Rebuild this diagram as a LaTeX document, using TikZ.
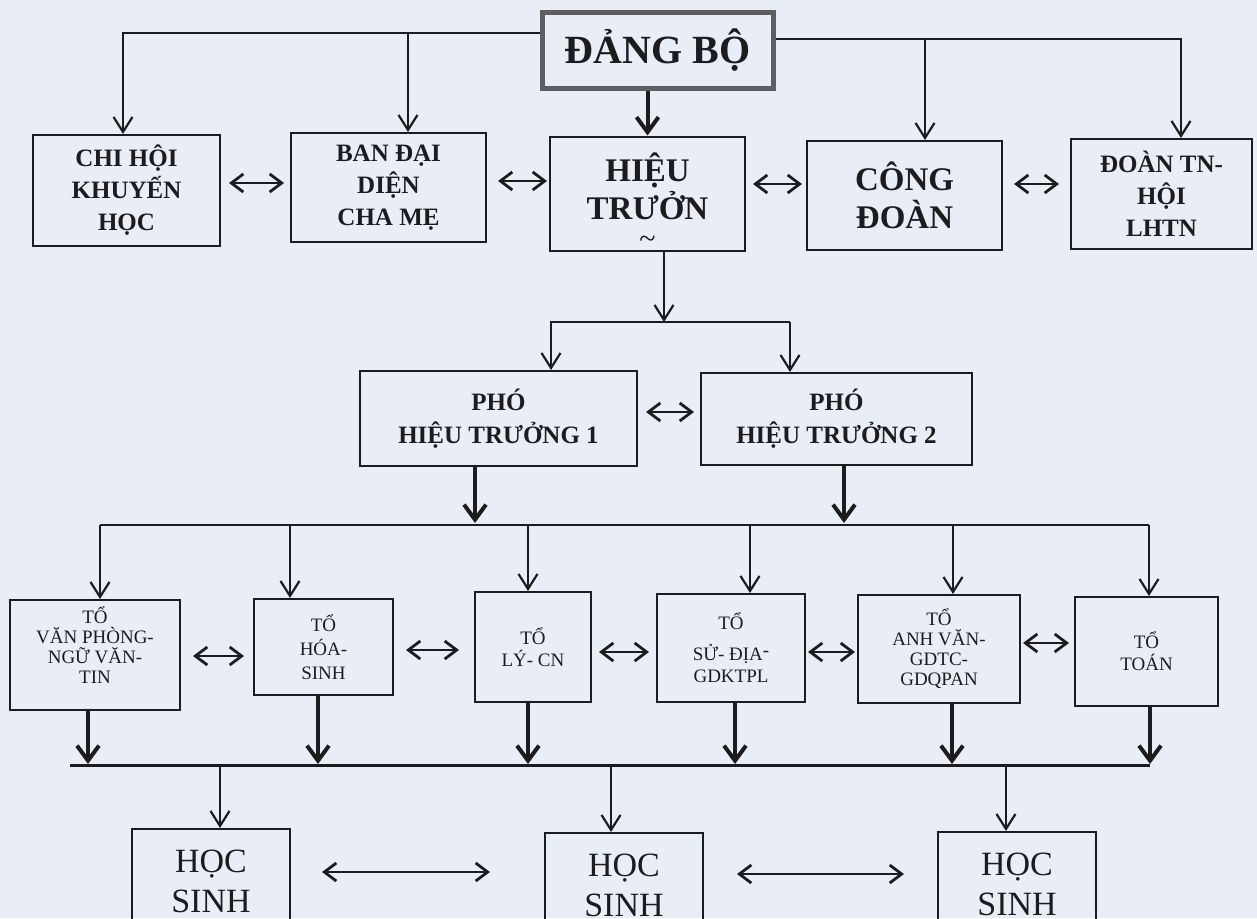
\documentclass[tikz,border=0pt]{standalone}
\usepackage{fontspec}
\setmainfont{Liberation Serif}
\usetikzlibrary{arrows.meta}
\definecolor{bg}{RGB}{233,238,246}
\definecolor{ink}{RGB}{28,28,30}
\definecolor{frame}{RGB}{95,95,98}
\newcommand\fsz[2]{\fontsize{#1}{#2}\selectfont}
\tikzset{
  box/.style={draw=ink, line width=2pt, inner sep=2pt, align=center, text=ink},
  rowone/.style={box, font=\bfseries\fsz{25}{32}},
  rowbig/.style={box, font=\bfseries\fsz{33}{38}},
  phobox/.style={box, font=\bfseries\fsz{25}{33}},
  tobox/.style={box, font=\fsz{19}{20}},
  hsbox/.style={box, font=\fsz{34}{40}},
  conn/.style={draw=ink, line width=2.2pt},
  arr/.style={draw=ink, line width=2.2pt, -{Straight Barb[length=15pt,width=19pt]}},
  tharr/.style={draw=ink, line width=4pt, -{Straight Barb[length=15pt,width=22pt]}},
  dbl/.style={draw=ink, line width=2.8pt, {Straight Barb[length=12pt,width=18pt]}-{Straight Barb[length=12pt,width=18pt]}}
}
\begin{document}
\begin{tikzpicture}[x=1pt,y=-1pt]
\useasboundingbox (0,0) rectangle (1257,918);
\fill[bg] (0,0) rectangle (1257,918);
\clip (0,0) rectangle (1257,918);

% top
\node[box, draw=frame, line width=5pt, minimum width=231, minimum height=76, font=\bfseries\fsz{40}{44}] (dang) at (657.5,50) {ĐẢNG BỘ};

% row 1
\node[rowone, minimum width=187, minimum height=111] (chihoi) at (126.5,190.5) {CHI HỘI\\KHUYẾN\\HỌC};
\node[rowone, minimum width=195, minimum height=109] (ban) at (388.5,187.5) {BAN ĐẠI\\DIỆN\\CHA MẸ};
\node[rowbig, minimum width=195, minimum height=109] (hieu) at (647.5,193.5) {\rule{0pt}{43pt}HIỆU\\TRƯỞN\\[-9pt]{\mdseries\fsz{30}{30}\textasciitilde}};
\node[rowbig, minimum width=195, minimum height=109] (cong) at (904.5,195.5) {CÔNG\\ĐOÀN};
\node[rowone, minimum width=181, minimum height=110] (doan) at (1161.5,194) {ĐOÀN TN-\\HỘI\\LHTN};

% row 2
\node[phobox, minimum width=277, minimum height=95] (pho1) at (498.5,418.5) {PHÓ\\HIỆU TRƯỞNG 1};
\node[phobox, minimum width=271, minimum height=92] (pho2) at (836.5,419) {PHÓ\\HIỆU TRƯỞNG 2};

% row 3
\node[tobox, minimum width=170, minimum height=110] (t1) at (95,655) {TỔ\\VĂN PHÒNG-\\NGỮ VĂN-\\TIN\\[-6pt]\strut};
\node[tobox, font=\fsz{19}{24}, minimum width=139, minimum height=96] (t2) at (323.5,647) {TỔ\\HÓA-\\SINH};
\node[tobox, font=\fsz{19}{22}, minimum width=116, minimum height=110] (t3) at (533,647) {TỔ\\LÝ- CN};
\node[tobox, font=\fsz{19}{22}, minimum width=148, minimum height=108] (t4) at (731,648) {TỔ\\[9pt]SỬ- ĐỊA\raisebox{4pt}{-}\\GDKTPL};
\node[tobox, minimum width=162, minimum height=108] (t5) at (939,649) {TỔ\\ANH VĂN-\\GDTC-\\GDQPAN};
\node[tobox, font=\fsz{19}{22}, minimum width=143, minimum height=109] (t6) at (1146.5,651.5) {TỔ\\TOÁN};

% row 4
\node[hsbox, minimum width=158, minimum height=104] (hs1) at (211,881) {HỌC\\SINH};
\node[hsbox, minimum width=158, minimum height=104] (hs2) at (624,885) {HỌC\\SINH};
\node[hsbox, minimum width=158, minimum height=104] (hs3) at (1017,884) {HỌC\\SINH};

% connectors from ĐẢNG BỘ
\coordinate (lt) at (123,33);
\coordinate (lb) at (408,33);
\coordinate (rt) at (1181,39);
\coordinate (rb) at (925,39);
\draw[arr] (dang.west |- lt) -- (lt) -- (lt |- chihoi.north);
\draw[arr] (lb) -- (lb |- ban.north);
\draw[arr] (dang.east |- rt) -- (rt) -- (rt |- doan.north);
\draw[arr] (rb) -- (rb |- cong.north);
\draw[tharr] (dang.south -| hieu.north) -- (hieu.north);

% row 1 double arrows
\draw[dbl, shorten <=8pt, shorten >=6pt] (chihoi.east |- 0,183) -- (ban.west |- 0,183);
\draw[dbl, shorten <=11pt, shorten >=2pt] (ban.east |- 0,181) -- (hieu.west |- 0,181);
\draw[dbl, shorten <=7pt, shorten >=4pt] (hieu.east |- 0,184) -- (cong.west |- 0,184);
\draw[dbl, shorten <=11pt, shorten >=11pt] (cong.east |- 0,184) -- (doan.west |- 0,184);

% to PHÓ
\coordinate (hm) at (664,322);
\coordinate (pl) at (551,322);
\coordinate (pr) at (790,322);
\draw[arr] (hieu.south -| hm) -- (hm);
\draw[arr] (pr) -- (pl) -- (pl |- pho1.north);
\draw[arr] (pr) -- (pr |- pho2.north);
\draw[dbl, shorten <=8pt, shorten >=6pt] (pho1.east |- 0,412) -- (pho2.west |- 0,412);

% PHÓ to row 3
\coordinate (m1) at (475,523);
\coordinate (m2) at (844,523);
\draw[tharr] (pho1.south -| m1) -- (m1);
\draw[tharr] (pho2.south -| m2) -- (m2);
\coordinate (d1) at (100,525);
\coordinate (d2) at (290,525);
\coordinate (d3) at (528,525);
\coordinate (d4) at (750,525);
\coordinate (d5) at (953,525);
\coordinate (d6) at (1149,525);
\draw[conn, line width=2.6pt] (d1) -- (d6);
\draw[arr] (d1) -- (d1 |- t1.north);
\draw[arr] (d2) -- (d2 |- t2.north);
\draw[arr] (d3) -- (d3 |- t3.north);
\draw[arr] (d4) -- (d4 |- t4.north);
\draw[arr] (d5) -- (d5 |- t5.north);
\draw[arr] (d6) -- (d6 |- t6.north);

% row 3 double arrows
\draw[dbl, shorten <=12pt, shorten >=9pt] (t1.east |- 0,656) -- (t2.west |- 0,656);
\draw[dbl, shorten <=12pt, shorten >=15pt] (t2.east |- 0,650) -- (t3.west |- 0,650);
\draw[dbl, shorten <=7pt, shorten >=7pt] (t3.east |- 0,652) -- (t4.west |- 0,652);
\draw[dbl, shorten <=2pt, shorten >=2pt] (t4.east |- 0,652) -- (t5.west |- 0,652);
\draw[dbl, shorten <=2pt, shorten >=5pt] (t5.east |- 0,643) -- (t6.west |- 0,643);

% row 3 to bottom bar
\coordinate (b1) at (88,764);
\coordinate (b2) at (318,764);
\coordinate (b3) at (528,764);
\coordinate (b4) at (735,764);
\coordinate (b5) at (952,764);
\coordinate (b6) at (1150,764);
\draw[tharr] (t1.south -| b1) -- (b1);
\draw[tharr] (t2.south -| b2) -- (b2);
\draw[tharr] (t3.south -| b3) -- (b3);
\draw[tharr] (t4.south -| b4) -- (b4);
\draw[tharr] (t5.south -| b5) -- (b5);
\draw[tharr] (t6.south -| b6) -- (b6);
\coordinate (c0) at (70,765);
\coordinate (c1) at (1150,765);
\draw[conn, line width=3pt] (c0) -- (c1);

% to HỌC SINH
\coordinate (h1) at (220,765);
\coordinate (h2) at (611,765);
\coordinate (h3) at (1006,765);
\draw[arr] (h1) -- (h1 |- hs1.north);
\draw[arr] (h2) -- (h2 |- hs2.north);
\draw[arr] (h3) -- (h3 |- hs3.north);
\draw[dbl, shorten <=31pt, shorten >=54pt] (hs1.east |- 0,872) -- (hs2.west |- 0,872);
\draw[dbl, shorten <=33pt, shorten >=33pt] (hs2.east |- 0,874) -- (hs3.west |- 0,874);
\end{tikzpicture}
\end{document}
